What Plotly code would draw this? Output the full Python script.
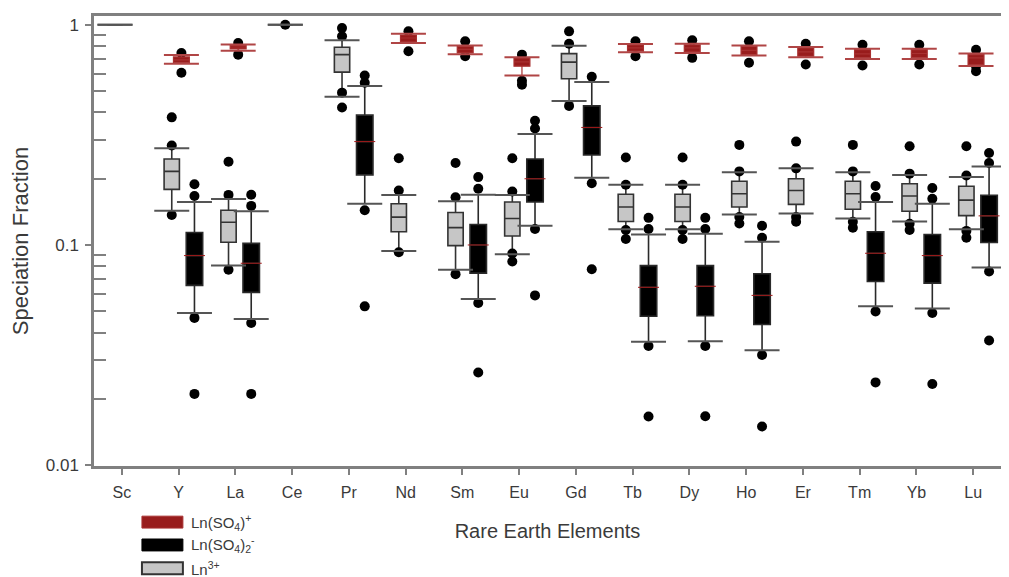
import plotly.graph_objects as go

# ---------------- data ----------------
CATEGORIES = ["Sc", "Y", "La", "Ce", "Pr", "Nd", "Sm", "Eu", "Gd",
              "Tb", "Dy", "Ho", "Er", "Tm", "Yb", "Lu"]

# Ln3+ (grey boxes)
LN3_CATS = CATEGORIES
LN3_Q1 = [1.0, 0.179, 0.103, 1.0, 0.610, 0.115, 0.0994, 0.110, 0.569,
          0.128, 0.128, 0.149, 0.153, 0.1455, 0.1425, 0.136]
LN3_MED = [1.0, 0.216, 0.127, 1.0, 0.732, 0.134, 0.120, 0.132, 0.677,
           0.149, 0.149, 0.171, 0.177, 0.171, 0.167, 0.160]
LN3_Q3 = [1.0, 0.246, 0.144, 1.0, 0.791, 0.154, 0.1405, 0.157, 0.740,
          0.170, 0.170, 0.195, 0.200, 0.195, 0.190, 0.185]
LN3_LO = [1.0, 0.143, 0.0807, 1.0, 0.472, 0.094, 0.0772, 0.0908, 0.451,
          0.118, 0.118, 0.1375, 0.139, 0.132, 0.128, 0.118]
LN3_HI = [1.0, 0.275, 0.162, 1.0, 0.850, 0.169, 0.158, 0.169, 0.804,
          0.188, 0.188, 0.214, 0.223, 0.214, 0.208, 0.2035]
LN3_OUT = [[], [0.137, 0.283, 0.38], [0.0772, 0.169, 0.239], [1.0],
           [0.421, 0.492, 0.887, 0.966], [0.0927, 0.177, 0.248],
           [0.0738, 0.165, 0.236], [0.0842, 0.0915, 0.175, 0.248],
           [0.4285, 0.821, 0.934], [0.1065, 0.117, 0.188, 0.250],
           [0.1065, 0.117, 0.188, 0.250], [0.1253, 0.134, 0.216, 0.285],
           [0.1275, 0.134, 0.223, 0.295], [0.1198, 0.1275, 0.216, 0.285],
           [0.117, 0.125, 0.211, 0.281], [0.108, 0.116, 0.207, 0.281]]

# Ln(SO4)+ (dark red boxes)
SO4_CATS = ["Y", "La", "Nd", "Sm", "Eu", "Tb", "Dy", "Ho", "Er", "Tm", "Yb", "Lu"]
SO4_Q1 = [0.672, 0.777, 0.836, 0.745, 0.649, 0.760, 0.753, 0.732, 0.720, 0.708, 0.708, 0.660]
SO4_MED = [0.693, 0.793, 0.871, 0.773, 0.679, 0.785, 0.785, 0.765, 0.753, 0.738, 0.741, 0.708]
SO4_Q3 = [0.715, 0.806, 0.899, 0.799, 0.708, 0.810, 0.812, 0.799, 0.785, 0.771, 0.771, 0.732]
SO4_LO = [0.665, 0.763, 0.827, 0.735, 0.589, 0.750, 0.745, 0.725, 0.712, 0.700, 0.700, 0.650]
SO4_HI = [0.730, 0.815, 0.911, 0.806, 0.713, 0.818, 0.820, 0.806, 0.792, 0.778, 0.778, 0.740]
SO4_OUT = [[0.606, 0.745], [0.732, 0.827], [0.759, 0.934], [0.720, 0.842],
           [0.535, 0.557, 0.732], [0.720, 0.842], [0.708, 0.850],
           [0.672, 0.842], [0.660, 0.821], [0.653, 0.812], [0.660, 0.812],
           [0.616, 0.649, 0.771]]

# Ln(SO4)2- (black boxes)
SO42_CATS = ["Y", "La", "Pr", "Sm", "Eu", "Gd", "Tb", "Dy", "Ho", "Tm", "Yb", "Lu"]
SO42_Q1 = [0.0656, 0.061, 0.2084, 0.0746, 0.157, 0.2566, 0.0475, 0.0478, 0.0436, 0.0683, 0.0672, 0.1028]
SO42_MED = [0.0896, 0.0827, 0.295, 0.1001, 0.200, 0.342, 0.0643, 0.0650, 0.0591, 0.0918, 0.0896, 0.1357]
SO42_Q3 = [0.114, 0.1018, 0.389, 0.124, 0.246, 0.4285, 0.0807, 0.0807, 0.0741, 0.1149, 0.1117, 0.1683]
SO42_LO = [0.0491, 0.0462, 0.1542, 0.0569, 0.1223, 0.202, 0.0364, 0.0366, 0.0333, 0.0527, 0.0515, 0.0791]
SO42_HI = [0.157, 0.1425, 0.527, 0.1693, 0.319, 0.550, 0.1117, 0.1125, 0.1036, 0.157, 0.1542, 0.2274]
SO42_OUT = [[0.0211, 0.0467, 0.167, 0.1887], [0.0211, 0.0443, 0.1506, 0.1693],
            [0.0527, 0.144, 0.546, 0.589], [0.0264, 0.0546, 0.1802, 0.2035],
            [0.0591, 0.1182, 0.3385, 0.3666], [0.0777, 0.191, 0.581],
            [0.01665, 0.0348, 0.1182, 0.1329], [0.0167, 0.0348, 0.1182, 0.1329],
            [0.015, 0.0317, 0.108, 0.1223], [0.0238, 0.050, 0.1653, 0.1853],
            [0.0234, 0.0492, 0.1624, 0.1815], [0.0369, 0.0759, 0.236, 0.2619]]

LEGEND_LABELS = ["Ln(SO<sub>4</sub>)<sup>+</sup>",
                 "Ln(SO<sub>4</sub>)<sub>2</sub><sup>-</sup>",
                 "Ln<sup>3+</sup>"]

# ---------------- style ----------------
FONT = "Liberation Sans, Arial, sans-serif"
AXIS_GREY = "#808080"
TEXT = "#3a3a3a"
GREY_FILL = "#c6c6c6"
RED_FILL = "#981c1c"
RED_LINE = "#a83030"
DARK = "#333333"

OFF_LN3, OFF_SO4, OFF_SO42 = -0.12, 0.05, 0.28
W_LN3, W_SO4, W_SO42 = 0.27, 0.28, 0.29
CAP_SIZE = 25


def positions(cats, off):
    return [CATEGORIES.index(c) + off for c in cats]


def sample_rows(rows):
    # rows without outliers get a null placeholder so plotly keeps the trace
    return [list(r) if len(r) else [None] for r in rows]


fig = go.Figure()


def add_box(cats, off, width, q1, med, q3, lo, hi, out, fill, line, lw=1.6,
            box_visible=True):
    if out is not None:
        kw = dict(y=sample_rows(out), boxpoints="all", jitter=0, pointpos=0)
    else:
        kw = dict(boxpoints=False)
    fig.add_trace(go.Box(
        x=positions(cats, off), q1=q1, median=med, q3=q3,
        lowerfence=lo, upperfence=hi,
        width=width, whiskerwidth=0,
        fillcolor=fill if box_visible else "rgba(0,0,0,0)",
        line=dict(color=line if box_visible else "rgba(0,0,0,0)",
                  width=lw if box_visible else 0),
        marker=dict(color="black", size=10, line=dict(width=0)),
        showlegend=False, hoverinfo="skip", **kw))


def add_caps(cats, off, lo, hi, color, size=CAP_SIZE, width=2):
    xs = positions(cats, off)
    fig.add_trace(go.Scatter(
        x=xs + xs, y=list(lo) + list(hi), mode="markers",
        marker=dict(symbol="line-ew", size=size, color=color,
                    line=dict(color=color, width=width)),
        showlegend=False, hoverinfo="skip"))


# grey Ln3+ boxes
add_box(LN3_CATS, OFF_LN3, W_LN3, LN3_Q1, LN3_MED, LN3_Q3, LN3_LO, LN3_HI,
        LN3_OUT, GREY_FILL, DARK)
# black Ln(SO4)2- boxes
add_box(SO42_CATS, OFF_SO42, W_SO42, SO42_Q1, SO42_MED, SO42_Q3, SO42_LO,
        SO42_HI, SO42_OUT, "black", "#2a2a2a")
# red Ln(SO4)+ : outlier points first (beneath), then the boxes on top
add_box(SO4_CATS, OFF_SO4, W_SO4, SO4_Q1, SO4_MED, SO4_Q3, SO4_LO, SO4_HI,
        SO4_OUT, RED_FILL, RED_LINE, box_visible=False)
add_box(SO4_CATS, OFF_SO4, W_SO4, SO4_Q1, SO4_MED, SO4_Q3, SO4_LO, SO4_HI,
        None, RED_FILL, RED_LINE, lw=1.2)

# whisker caps
add_caps(LN3_CATS, OFF_LN3, LN3_LO, LN3_HI, "#555555")
add_caps(SO42_CATS, OFF_SO42, SO42_LO, SO42_HI, "#555555")
add_caps(SO4_CATS, OFF_SO4, SO4_LO, SO4_HI, "#b04545")

# thin red median line inside the black boxes
fig.add_trace(go.Scatter(
    x=positions(SO42_CATS, OFF_SO42), y=SO42_MED, mode="markers",
    marker=dict(symbol="line-ew", size=15, color="#a01818",
                line=dict(color="#a01818", width=1)),
    showlegend=False, hoverinfo="skip"))

# ---------------- layout ----------------
PAGE_OFF = 8                      # default body margin of the html page
W, H = 1009 - PAGE_OFF, 577 - PAGE_OFF
L, R, T, B = 94 - PAGE_OFF, 1002 - PAGE_OFF, 13 - PAGE_OFF, 466 - PAGE_OFF


def px(x_page):
    return (x_page - PAGE_OFF - L) / (R - L)


def py(y_page):
    return (B - (y_page - PAGE_OFF)) / (B - T)


MINOR = [m * 10 ** e for e in (-2, -1) for m in range(2, 10)]

fig.update_layout(
    width=W, height=H,
    margin=dict(l=L, r=W - R, t=T, b=H - B, pad=0),
    paper_bgcolor="white", plot_bgcolor="white",
    showlegend=False,
    font=dict(family=FONT, color=TEXT, size=16),
)

fig.update_xaxes(
    range=[-0.49, 15.49], tickmode="array",
    tickvals=list(range(len(CATEGORIES))), ticktext=CATEGORIES,
    ticks="outside", ticklen=6, tickwidth=2, tickcolor=AXIS_GREY,
    showline=True, linecolor=AXIS_GREY, linewidth=2.5, mirror=True,
    showgrid=False, zeroline=False,
    tickfont=dict(size=16, color=TEXT),
    ticklabelstandoff=4,
    title=dict(text="Rare Earth Elements", font=dict(size=20, color=TEXT),
               standoff=25),
)

fig.update_yaxes(
    type="log", range=[-2.003, 0.04], tickmode="array",
    tickvals=[0.01, 0.1, 1], ticktext=["0.01", "0.1", "1"],
    ticks="outside", ticklen=6, tickwidth=2, tickcolor=AXIS_GREY,
    minor=dict(tickmode="array", tickvals=MINOR, ticks="inside",
               ticklen=12, tickwidth=2, tickcolor=AXIS_GREY, showgrid=False),
    showline=True, linecolor=AXIS_GREY, linewidth=2.5, mirror=True,
    showgrid=False, zeroline=False,
    tickfont=dict(size=17, color=TEXT),
    ticklabelstandoff=3,
    title=dict(text="Speciation Fraction", font=dict(size=22, color=TEXT),
               standoff=12),
)

# ---------------- manual legend ----------------
legend_rows = [
    (522.5, RED_FILL, RED_LINE, 1),
    (545.5, "black", "black", 1),
    (569.0, GREY_FILL, DARK, 2),
]
for (yc, fill, edge, lw), label in zip(legend_rows, LEGEND_LABELS):
    fig.add_shape(type="rect", xref="paper", yref="paper",
                  x0=px(142), x1=px(183), y0=py(yc + 6), y1=py(yc - 6),
                  fillcolor=fill, line=dict(color=edge, width=lw))
    fig.add_annotation(xref="paper", yref="paper", x=px(189), y=py(yc),
                       text=label, showarrow=False, xanchor="left",
                       yanchor="middle", font=dict(size=15, color=TEXT))

fig.write_html("out.html")
